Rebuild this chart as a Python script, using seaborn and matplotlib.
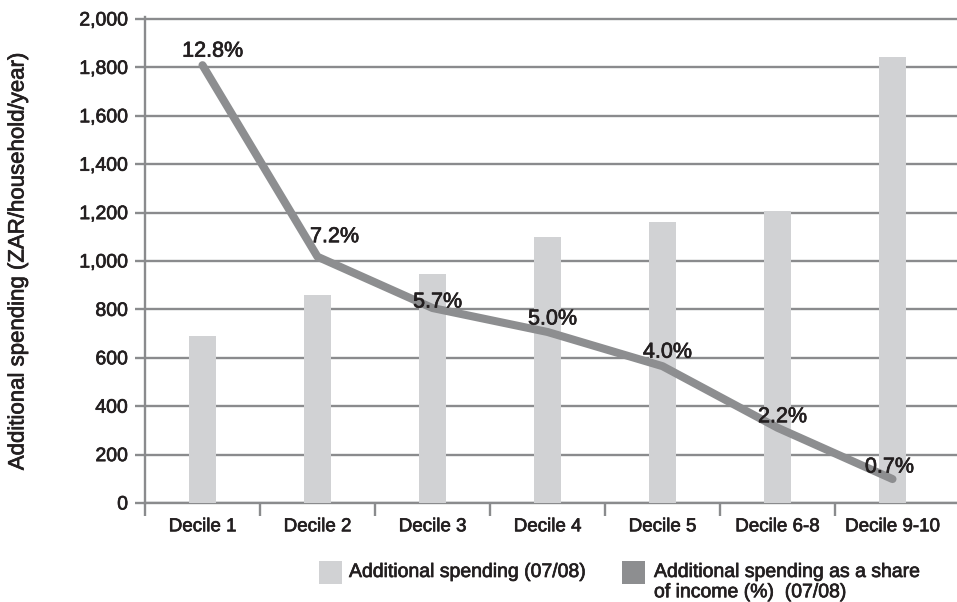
import numpy as np
import pandas as pd
import matplotlib
matplotlib.use("Agg")
import matplotlib.pyplot as plt
import matplotlib.patheffects as pe
import seaborn as sns
from matplotlib.patches import Rectangle

# Household spending by income decile
deciles = ["Decile 1", "Decile 2", "Decile 3", "Decile 4", "Decile 5", "Decile 6-8", "Decile 9-10"]
spending = [690, 860, 945, 1100, 1160, 1205, 1845]
share_pct = [12.8, 7.2, 5.7, 5.0, 4.0, 2.2, 0.7]
y_ticks = [0, 200, 400, 600, 800, 1000, 1200, 1400, 1600, 1800, 2000]
y_label = "Additional spending (ZAR/household/year)"
legend_labels = ["Additional spending (07/08)",
                 "Additional spending as a share\nof income (%)  (07/08)"]

BAR = "#d1d2d4"
LINE = "#8d8e90"
GRID = "#8a8b8d"
TEXT = "#231f20"

sns.set_theme(style="white")
plt.rcParams["font.family"] = ["Liberation Sans", "DejaVu Sans"]

# slightly heavier strokes for all text
heavy = [pe.withStroke(linewidth=0.5, foreground=TEXT)]

W, H, DPI = 957, 602, 100
fig = plt.figure(figsize=(W / DPI, H / DPI), dpi=DPI)

# plot area in pixels
px_left, px_right, px_bottom = 145, 957, 503
y_max = 2010
px_top = px_bottom - (px_bottom - 19) * y_max / 2000
ax = fig.add_axes([px_left / W, 1 - px_bottom / H,
                   (px_right - px_left) / W, (px_bottom - px_top) / H])

n = len(deciles)
cat_px = 115
x_right = -0.5 + (px_right - px_left) / cat_px

df = pd.DataFrame({"decile": deciles, "spending": spending, "share": share_pct})
sns.barplot(data=df, x="decile", y="spending", ax=ax, color=BAR,
            width=0.235, saturation=1, linewidth=0, zorder=3)

ax.set_ylim(0, y_max)
ax.set_xlim(-0.5, x_right)
ax.set_axisbelow(True)
ax.yaxis.grid(True, color=GRID, linewidth=1.7)
ax.xaxis.grid(False)

for side in ("top", "right"):
    ax.spines[side].set_visible(False)
for side in ("left", "bottom"):
    ax.spines[side].set_color(GRID)
    ax.spines[side].set_linewidth(1.7)

ax.set_yticks(y_ticks, labels=[f"{v:,}" for v in y_ticks])
ax.tick_params(axis="y", length=7.2, width=1.7, color=GRID, pad=5,
               labelsize=14, labelcolor=TEXT, left=True)

# category boundaries as ticks, names centred between them
boundaries = np.arange(-0.5, n - 1)
ax.set_xticks(boundaries, labels=[""] * len(boundaries))
ax.set_xticks(np.arange(n), labels=deciles, minor=True)
ax.tick_params(axis="x", which="major", length=9, width=1.7, color=GRID,
               bottom=True, direction="out")
ax.tick_params(axis="x", which="minor", length=0, pad=11,
               labelsize=13.5, labelcolor=TEXT)
ax.set_xlabel("")
ax.set_ylabel("")
for lab in ax.get_yticklabels() + ax.get_xticklabels(minor=True):
    lab.set_path_effects(heavy)

# share of income on a hidden secondary scale
ax2 = ax.twinx()
share_top = 14.15 * y_max / 2000
sns.lineplot(x=np.arange(n), y=share_pct, ax=ax2, color=LINE, linewidth=5.8,
             solid_capstyle="round", solid_joinstyle="round")
ax2.set_ylim(0, share_top)
ax2.set_xlim(-0.5, x_right)
ax2.set_axis_off()

offsets = [(10, 14), (17, 20), (5, 6), (5, 13), (5, 14), (5, 11), (-3, 12)]
for i, (v, (dx, dy)) in enumerate(zip(share_pct, offsets)):
    ax2.annotate(f"{v:.1f}%", (i, v), xytext=(dx, dy), textcoords="offset pixels",
                 ha="center", va="center", fontsize=15.5, color=TEXT,
                 annotation_clip=False, path_effects=heavy)

fig.text(18 / W, 1 - 261 / H, y_label, rotation=90, ha="center", va="center",
         fontsize=16, color=TEXT, path_effects=heavy)

# legend
legend_items = [(BAR, 319, 349), (LINE, 622, 654)]
for (col, sq_x, tx), lab in zip(legend_items, legend_labels):
    fig.add_artist(Rectangle((sq_x / W, 1 - 584 / H), 23 / W, 23 / H,
                             transform=fig.transFigure, color=col, lw=0))
    fig.text(tx / W, 1 - 564 / H, lab, ha="left", va="top", fontsize=14,
             color=TEXT, linespacing=1.25, path_effects=heavy)

fig.savefig("out.png", dpi=DPI)
